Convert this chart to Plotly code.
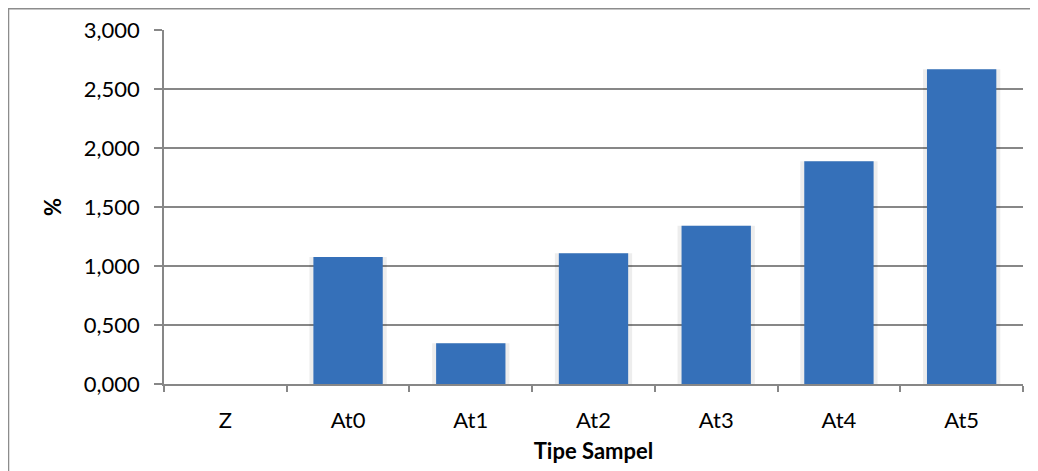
import plotly.graph_objects as go

categories = ["Z", "At0", "At1", "At2", "At3", "At4", "At5"]
values = [0.0, 1.076, 0.345, 1.107, 1.342, 1.888, 2.668]
y_ticks = [0, 0.5, 1.0, 1.5, 2.0, 2.5, 3.0]

font_family = "Lato, 'Open Sans', sans-serif"
grid_color = "#878787"

fig = go.Figure()
# soft shadow behind bars
fig.add_trace(go.Bar(
    x=categories, y=values, width=0.63,
    marker=dict(color="rgba(0,0,0,0.07)", line=dict(width=0)),
    hoverinfo="skip", showlegend=False,
))
fig.add_trace(go.Bar(
    x=categories, y=values, width=0.565,
    marker=dict(color="#3570b9", line=dict(width=0)),
    showlegend=False,
))

# page body has an 8px margin, so the figure is sized/positioned to compensate
fig.update_layout(
    width=1030, height=463,
    barmode="overlay",
    paper_bgcolor="white", plot_bgcolor="white",
    margin=dict(l=156, r=15, t=22, b=87, autoexpand=False),
    separators=",.",
    font=dict(family=font_family, size=22, color="#000000"),
    xaxis=dict(
        title=dict(text="<b>Tipe Sampel</b>", font=dict(size=22), standoff=11),
        showline=True, linecolor=grid_color, linewidth=1.5,
        ticks="outside", tickson="boundaries", ticklen=6, tickcolor=grid_color, tickwidth=1.5,
        ticklabelstandoff=16,
        showgrid=False,
    ),
    yaxis=dict(
        title=dict(text="<b>%</b>", font=dict(size=22), standoff=16),
        range=[0, 3.0], tickvals=y_ticks, tickformat=".3f",
        showline=True, linecolor=grid_color, linewidth=1.5,
        ticks="outside", ticklen=8, tickcolor=grid_color, tickwidth=1.5,
        ticklabelstandoff=10,
        showgrid=True, gridcolor=grid_color, gridwidth=1.5,
        zeroline=False,
    ),
    shapes=[dict(
        type="rect", xref="paper", yref="paper",
        x0=-0.181, x1=1.1, y0=-0.4, y1=1.06,
        line=dict(color="#8c8c8c", width=1.5), fillcolor="rgba(0,0,0,0)",
        layer="above",
    )],
)

fig.write_html("out.html")
